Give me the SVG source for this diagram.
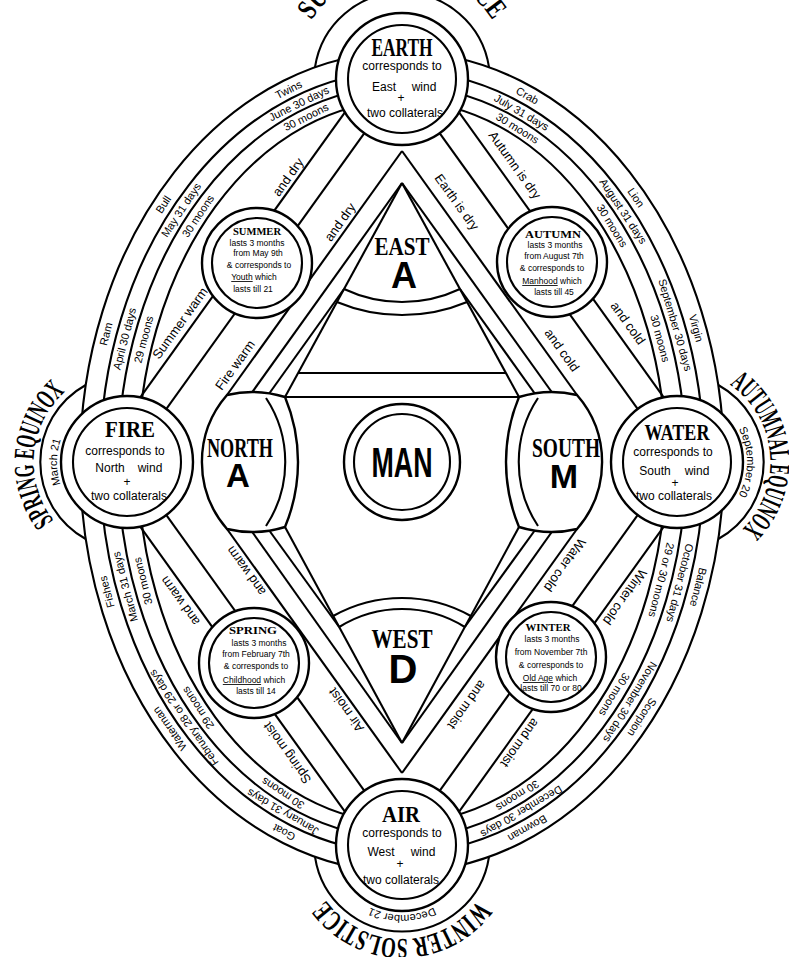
<svg xmlns="http://www.w3.org/2000/svg" width="789" height="957" viewBox="0 0 789 957">
<style>
.ln{fill:none;stroke:#000;stroke-width:2.1}
.cw{fill:#fff;stroke:#000;stroke-width:2.4}
.h{font-family:"Liberation Sans Narrow","Liberation Sans",sans-serif;fill:#000}
.b{font-size:11px;text-anchor:middle}
.r{font-size:13px;text-anchor:middle}
.ti{font-family:"Liberation Serif",serif;font-weight:bold;text-anchor:middle;fill:#000}
.big{font-family:"Liberation Sans",sans-serif;font-weight:bold;text-anchor:middle;fill:#000}
.s{font-size:8.5px;text-anchor:middle}
.e{font-size:12px;text-anchor:middle}
.u{text-decoration:underline}
.eq{font-family:"Liberation Serif",serif;font-weight:bold;font-size:29px;fill:#000}
.dt{font-size:11px}
</style>
<defs>
<path id="pSpring" d="M 118.81 555.64 A 94 94 0 0 1 135.19 368.36"/>
<path id="pAutumn" d="M 668.81 368.36 A 94 94 0 0 1 685.19 555.64"/>
<path id="pSummer" d="M 294 79 A 108 108 0 0 1 510 79"/>
<path id="pWinter" d="M 496 845 A 94 94 0 0 1 308 845"/>
<path id="dMarch" d="M 127 532 A 70 70 0 0 1 127 392"/>
<path id="dSept" d="M 677 392 A 70 70 0 0 1 677 532"/>
<path id="dDec" d="M 472 845 A 70 70 0 0 1 332 845"/>
</defs>
<rect width="789" height="957" fill="#fff"/>

<g id="oval" class="ln">
<ellipse cx="402" cy="462" rx="322" ry="410"/>
<ellipse cx="402" cy="462" rx="302" ry="391"/>
<ellipse cx="402" cy="462" rx="284" ry="376"/>
<ellipse cx="402" cy="462" rx="264" ry="361"/>
<path d="M 85.7 385 A 88 88 0 0 0 85.7 539"/>
<path d="M 718.3 385 A 88 88 0 0 1 718.3 539"/>
<path d="M 315 67.2 A 88 88 0 0 1 489 67.2"/>
<path d="M 489 856.8 A 88 88 0 0 1 315 856.8"/>
</g>

<g id="connectors" class="ln">
<line x1="380.1" y1="63.3" x2="105.1" y2="446.3"/>
<line x1="402.8" y1="79.6" x2="127.8" y2="462.6"/>
<line x1="402" y1="151" x2="227" y2="395"/>
<line x1="402" y1="183" x2="248" y2="398"/>
<line x1="344" y1="289" x2="266" y2="398"/>
<line x1="402" y1="183" x2="285" y2="397"/>
<line x1="423.9" y1="63.3" x2="698.9" y2="446.3"/>
<line x1="401.2" y1="79.6" x2="676.2" y2="462.6"/>
<line x1="402" y1="151" x2="577" y2="395"/>
<line x1="402" y1="183" x2="556" y2="398"/>
<line x1="460" y1="289" x2="538" y2="398"/>
<line x1="402" y1="183" x2="519" y2="397"/>
<line x1="380.1" y1="860.7" x2="105.1" y2="477.7"/>
<line x1="402.8" y1="844.4" x2="127.8" y2="461.4"/>
<line x1="402" y1="773" x2="227" y2="529"/>
<line x1="402" y1="743" x2="248" y2="526"/>
<line x1="339.2" y1="627" x2="266" y2="526"/>
<line x1="402" y1="743" x2="285" y2="527"/>
<line x1="423.9" y1="860.7" x2="698.9" y2="477.7"/>
<line x1="401.2" y1="844.4" x2="676.2" y2="461.4"/>
<line x1="402" y1="773" x2="577" y2="529"/>
<line x1="402" y1="743" x2="556" y2="526"/>
<line x1="464.8" y1="627" x2="538" y2="526"/>
<line x1="402" y1="743" x2="519" y2="527"/>
<line x1="298" y1="373" x2="506" y2="373"/>
<line x1="285" y1="397" x2="519" y2="397"/>
</g>

<g id="east">
<path class="ln" d="M 344 289 A 136 136 0 0 0 460 289"/>
<path class="ln" d="M 336.9 302 A 169 169 0 0 0 467.1 302"/>
<text class="ti" x="402" y="255" font-size="26" textLength="55" lengthAdjust="spacingAndGlyphs">EAST</text>
<text class="big" x="404" y="288" font-size="36">A</text>
</g>
<g id="west">
<path class="ln" d="M 333.2 616 A 140.5 140.5 0 0 1 470.8 616"/>
<path class="ln" d="M 339.2 627 A 118.6 118.6 0 0 1 464.8 627"/>
<text class="ti" x="402" y="648" font-size="28" textLength="61" lengthAdjust="spacingAndGlyphs">WEST</text>
<text class="big" x="403" y="683" font-size="40">D</text>
</g>
<g id="north">
<path class="cw" d="M 227 395 Q 256 388 285 397 A 169 169 0 0 1 285 527 Q 256 536 227 529 A 102 102 0 0 1 227 395 Z"/>
<path class="ln" d="M 266 398 A 116 116 0 0 1 266 526"/>
<text class="ti" x="240" y="457" font-size="28" textLength="66" lengthAdjust="spacingAndGlyphs">NORTH</text>
<text class="big" x="238" y="487" font-size="33">A</text>
</g>
<g id="south">
<path class="cw" d="M 577 395 Q 548 388 519 397 A 169 169 0 0 0 519 527 Q 548 536 577 529 A 102 102 0 0 0 577 395 Z"/>
<path class="ln" d="M 538 398 A 116 116 0 0 0 538 526"/>
<text class="ti" x="566" y="457" font-size="28" textLength="68" lengthAdjust="spacingAndGlyphs">SOUTH</text>
<text class="big" x="564" y="488" font-size="34">M</text>
</g>
<g id="man">
<circle class="cw" cx="402" cy="462" r="58"/>
<circle class="ln" cx="402" cy="462" r="48"/>
<text class="big" x="402" y="477" font-size="42" textLength="61" lengthAdjust="spacingAndGlyphs">MAN</text>
</g>

<g id="earth">
<circle class="cw" cx="402" cy="79" r="66"/>
<circle class="ln" cx="402" cy="79" r="54"/>
<text class="ti" x="402" y="56" font-size="25" textLength="61" lengthAdjust="spacingAndGlyphs">EARTH</text>
<text class="h e" x="402" y="70">corresponds to</text>
<text class="h e" x="384" y="91" font-size="15">East</text>
<text class="h e" x="424" y="91">wind</text>
<text class="h e" x="401" y="102">+</text>
<text class="h e" x="405" y="117">two collaterals</text>
</g>
<g id="fire">
<circle class="cw" cx="127" cy="462" r="66"/>
<circle class="ln" cx="127" cy="462" r="54"/>
<text class="ti" x="130" y="437" font-size="24" textLength="50" lengthAdjust="spacingAndGlyphs">FIRE</text>
<text class="h e" x="125" y="455">corresponds to</text>
<text class="h e" x="110" y="472" font-size="13">North</text>
<text class="h e" x="150" y="472">wind</text>
<text class="h e" x="127" y="486">+</text>
<text class="h e" x="129" y="500">two collaterals</text>
</g>
<g id="water">
<circle class="cw" cx="677" cy="462" r="66"/>
<circle class="ln" cx="677" cy="462" r="54"/>
<text class="ti" x="677" y="440" font-size="24" textLength="65" lengthAdjust="spacingAndGlyphs">WATER</text>
<text class="h e" x="673" y="456">corresponds to</text>
<text class="h e" x="655" y="475" font-size="13">South</text>
<text class="h e" x="697" y="475">wind</text>
<text class="h e" x="675" y="487">+</text>
<text class="h e" x="674" y="500">two collaterals</text>
</g>
<g id="air">
<circle class="cw" cx="402" cy="845" r="66"/>
<circle class="ln" cx="402" cy="845" r="54"/>
<text class="ti" x="401" y="822" font-size="24" textLength="38" lengthAdjust="spacingAndGlyphs">AIR</text>
<text class="h e" x="402" y="837">corresponds to</text>
<text class="h e" x="381" y="856" font-size="13">West</text>
<text class="h e" x="423" y="856">wind</text>
<text class="h e" x="400" y="868">+</text>
<text class="h e" x="401" y="884">two collaterals</text>
</g>

<g id="summer">
<circle class="cw" cx="257" cy="263" r="55"/>
<circle class="ln" cx="257" cy="263" r="45"/>
<text class="ti" x="257" y="235" font-size="11" textLength="48" lengthAdjust="spacingAndGlyphs">SUMMER</text>
<text class="h s" x="257" y="246">lasts 3 months</text>
<text class="h s" x="258" y="256">from May 9th</text>
<text class="h s" x="259" y="268">&amp; corresponds to</text>
<text class="h s" x="254" y="280"><tspan class="u">Youth</tspan> which</text>
<text class="h s" x="253" y="292">lasts till 21</text>
</g>
<g id="autumn">
<circle class="cw" cx="552" cy="262" r="55"/>
<circle class="ln" cx="552" cy="262" r="45"/>
<text class="ti" x="553" y="238" font-size="11" textLength="56" lengthAdjust="spacingAndGlyphs">AUTUMN</text>
<text class="h s" x="555" y="248">lasts 3 months</text>
<text class="h s" x="554" y="259">from August 7th</text>
<text class="h s" x="552" y="271">&amp; corresponds to</text>
<text class="h s" x="552" y="284"><tspan class="u">Manhood</tspan> which</text>
<text class="h s" x="554" y="295">lasts till 45</text>
</g>
<g id="spring">
<circle class="cw" cx="254" cy="663" r="55"/>
<circle class="ln" cx="254" cy="663" r="45"/>
<text class="ti" x="253" y="634" font-size="11" textLength="48" lengthAdjust="spacingAndGlyphs">SPRING</text>
<text class="h s" x="259" y="646">lasts 3 months</text>
<text class="h s" x="256" y="657">from February 7th</text>
<text class="h s" x="256" y="669">&amp; corresponds to</text>
<text class="h s" x="254" y="683"><tspan class="u">Childhood</tspan> which</text>
<text class="h s" x="256" y="694">lasts till 14</text>
</g>
<g id="winter">
<circle class="cw" cx="551" cy="657" r="55"/>
<circle class="ln" cx="551" cy="657" r="45"/>
<text class="ti" x="548" y="631" font-size="11" textLength="45" lengthAdjust="spacingAndGlyphs">WINTER</text>
<text class="h s" x="552" y="642">lasts 3 months</text>
<text class="h s" x="551" y="655">from November 7th</text>
<text class="h s" x="551" y="668">&amp; corresponds to</text>
<text class="h s" x="550" y="681"><tspan class="u">Old Age</tspan> which</text>
<text class="h s" x="551" y="691">lasts till 70 or 80</text>
</g>

<g id="seasons-text">
<text class="eq"><textPath href="#pSpring" startOffset="50%" text-anchor="middle" textLength="142" lengthAdjust="spacingAndGlyphs">SPRING EQUINOX</textPath></text>
<text class="eq"><textPath href="#pAutumn" startOffset="50%" text-anchor="middle" textLength="165" lengthAdjust="spacingAndGlyphs">AUTUMNAL EQUINOX</textPath></text>
<text class="eq"><textPath href="#pSummer" startOffset="50%" text-anchor="middle" textLength="215" lengthAdjust="spacingAndGlyphs">SUMMER SOLSTICE</textPath></text>
<text class="eq"><textPath href="#pWinter" startOffset="50%" text-anchor="middle" textLength="178" lengthAdjust="spacingAndGlyphs">WINTER SOLSTICE</textPath></text>
<text class="h dt"><textPath href="#dMarch" startOffset="50%" text-anchor="middle">March 21</textPath></text>
<text class="h dt"><textPath href="#dSept" startOffset="50%" text-anchor="middle">September 20</textPath></text>
<text class="h dt"><textPath href="#dDec" startOffset="50%" text-anchor="middle">December 21</textPath></text>
</g>

<g id="band-labels" class="h b">
<text x="288.7" y="89.6" dy="0.35em" transform="rotate(-26.6 288.7 89.6)">Twins</text>
<text x="298.8" y="103.5" dy="0.35em" transform="rotate(-26.2 298.8 103.5)">June 30 days</text>
<text x="306" y="117" dy="0.35em" transform="rotate(-26.6 306 117)">30 moons</text>
<text x="163.3" y="204.4" dy="0.35em" transform="rotate(-56.7 163.3 204.4)">Bull</text>
<text x="181" y="210" dy="0.35em" transform="rotate(-56.3 181 210)">May 31 days</text>
<text x="198" y="216" dy="0.35em" transform="rotate(-56.2 198 216)">30 moons</text>
<text x="106" y="334" dy="0.35em" transform="rotate(-75.3 106 334)">Ram</text>
<text x="124.5" y="338.7" dy="0.35em" transform="rotate(-75.4 124.5 338.7)">April 30 days</text>
<text x="143.6" y="339.5" dy="0.35em" transform="rotate(-75.3 143.6 339.5)">29 moons</text>
<text x="527.4" y="95.6" dy="0.35em" transform="rotate(29.4 527.4 95.6)">Crab</text>
<text x="521.5" y="112.3" dy="0.35em" transform="rotate(30.3 521.5 112.3)">July 31 days</text>
<text x="517.6" y="128.2" dy="0.35em" transform="rotate(32 517.6 128.2)">30 moons</text>
<text x="636" y="197.6" dy="0.35em" transform="rotate(55.5 636 197.6)">Lion</text>
<text x="623.2" y="211.1" dy="0.35em" transform="rotate(56.4 623.2 211.1)">August 31 days</text>
<text x="612.2" y="225.7" dy="0.35em" transform="rotate(58.1 612.2 225.7)">30 moons</text>
<text x="696.2" y="328.2" dy="0.35em" transform="rotate(74.5 696.2 328.2)">Virgin</text>
<text x="675.4" y="324.9" dy="0.35em" transform="rotate(73.6 675.4 324.9)">September 30 days</text>
<text x="660.1" y="338.5" dy="0.35em" transform="rotate(75.2 660.1 338.5)">30 moons</text>
<text x="698.4" y="587.2" dy="0.35em" transform="rotate(104.4 698.4 587.2)">Balance</text>
<text x="680" y="583" dy="0.35em" transform="rotate(104.3 680 583)">October 31 days</text>
<text x="661.5" y="580" dy="0.35em" transform="rotate(104.1 661.5 580)">29 or 30 moons</text>
<text x="642.2" y="717.2" dy="0.35em" transform="rotate(122.9 642.2 717.2)">Scorpion</text>
<text x="630.2" y="702.1" dy="0.35em" transform="rotate(121.6 630.2 702.1)">November 30 days</text>
<text x="614.4" y="694.6" dy="0.35em" transform="rotate(121.3 614.4 694.6)">30 moons</text>
<text x="527.4" y="828.4" dy="0.35em" transform="rotate(150.6 527.4 828.4)">Bowman</text>
<text x="521.5" y="811.7" dy="0.35em" transform="rotate(149.7 521.5 811.7)">December 30 days</text>
<text x="517.6" y="795.8" dy="0.35em" transform="rotate(148 517.6 795.8)">30 moons</text>
<text x="284" y="832.4" dy="0.35em" transform="rotate(-152.4 284 832.4)">Goat</text>
<text x="282.7" y="812" dy="0.35em" transform="rotate(-149.8 282.7 812)">January 31 days</text>
<text x="282.8" y="793.3" dy="0.35em" transform="rotate(-147 282.8 793.3)">30 moons</text>
<text x="169.6" y="728.8" dy="0.35em" transform="rotate(-124.9 169.6 728.8)">Waterman</text>
<text x="183.7" y="717.8" dy="0.35em" transform="rotate(-124.4 183.7 717.8)">February 28 or 29 days</text>
<text x="197.9" y="707.8" dy="0.35em" transform="rotate(-123.7 197.9 707.8)">29 moons</text>
<text x="106.8" y="591.8" dy="0.35em" transform="rotate(-105 106.8 591.8)">Fishes</text>
<text x="125.1" y="586.7" dy="0.35em" transform="rotate(-104.8 125.1 586.7)">March 31 days</text>
<text x="142.8" y="581" dy="0.35em" transform="rotate(-104.3 142.8 581)">30 moons</text>
</g>

<g id="road-labels" class="h r">
<text x="288" y="177" dy="0.35em" transform="rotate(-54.3 288 177)">and dry</text>
<text x="180" y="323" dy="0.35em" transform="rotate(-54.3 180 323)">Summer warm</text>
<text x="340" y="222" dy="0.35em" transform="rotate(-54.3 340 222)">and dry</text>
<text x="235" y="365" dy="0.35em" transform="rotate(-54.3 235 365)">Fire warm</text>
<text x="515" y="165" dy="0.35em" transform="rotate(54.3 515 165)">Autumn is dry</text>
<text x="628" y="323" dy="0.35em" transform="rotate(54.3 628 323)">and cold</text>
<text x="457" y="202" dy="0.35em" transform="rotate(54.3 457 202)">Earth is dry</text>
<text x="562" y="350" dy="0.35em" transform="rotate(54.3 562 350)">and cold</text>
<text x="565" y="565" dy="0.35em" transform="rotate(125.7 565 565)">Water cold</text>
<text x="625" y="597" dy="0.35em" transform="rotate(125.7 625 597)">Winter cold</text>
<text x="467" y="705" dy="0.35em" transform="rotate(125.7 467 705)">and moist</text>
<text x="520" y="743" dy="0.35em" transform="rotate(125.7 520 743)">and moist</text>
<text x="246" y="571" dy="0.35em" transform="rotate(-125.7 246 571)">and warm</text>
<text x="346" y="710" dy="0.35em" transform="rotate(-125.7 346 710)">Air moist</text>
<text x="180" y="601" dy="0.35em" transform="rotate(-125.7 180 601)">and warm</text>
<text x="287" y="753" dy="0.35em" transform="rotate(-125.7 287 753)">Spring moist</text>
</g>
</svg>
